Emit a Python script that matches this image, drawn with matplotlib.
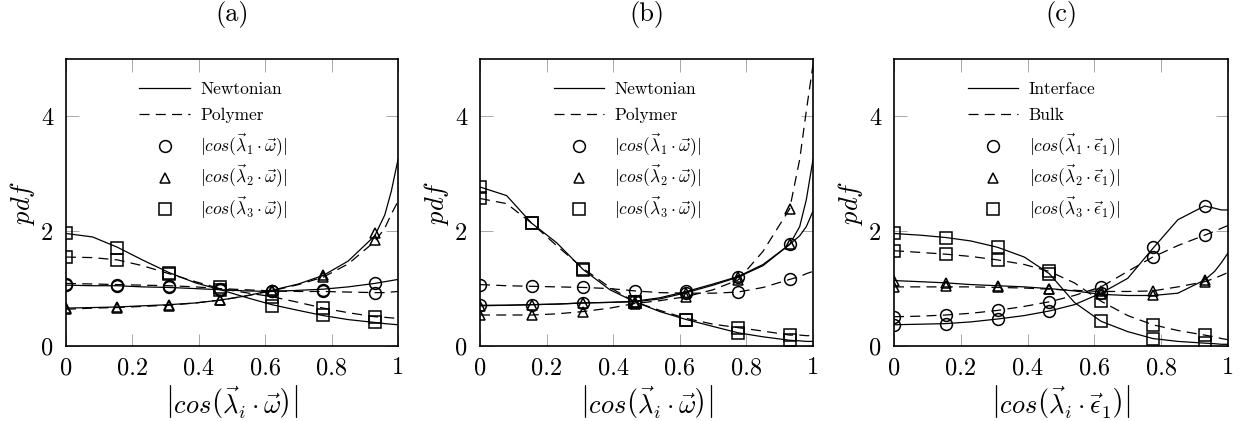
import matplotlib
matplotlib.use("Agg")
import matplotlib.pyplot as plt
from matplotlib.lines import Line2D

plt.rcParams['font.family'] = ['cmr10', 'DejaVu Serif']
plt.rcParams['mathtext.fontset'] = 'cm'
plt.rcParams['axes.formatter.use_mathtext'] = True

# ---------------- data ----------------
X_MARK = [0, 0.155, 0.31, 0.465, 0.62, 0.775, 0.93]
X_CURVE = [0, 0.08, 0.155, 0.23, 0.31, 0.39, 0.465, 0.54, 0.62, 0.70, 0.775, 0.85, 0.93, 0.96, 0.98, 1.0]

titles = ['(a)', '(b)', '(c)']
xlabels = [r'$\left|cos\left(\vec{\lambda}_i\cdot\vec{\omega}\right)\right|$',
           r'$\left|cos\left(\vec{\lambda}_i\cdot\vec{\omega}\right)\right|$',
           r'$\left|cos\left(\vec{\lambda}_i\cdot\vec{\epsilon}_1\right)\right|$']
style_labels = [['Newtonian', 'Polymer'], ['Newtonian', 'Polymer'], ['Interface', 'Bulk']]
vec_labels = [[r'$|cos(\vec{\lambda}_1\cdot\vec{\omega})|$', r'$|cos(\vec{\lambda}_2\cdot\vec{\omega})|$',
               r'$|cos(\vec{\lambda}_3\cdot\vec{\omega})|$'],
              [r'$|cos(\vec{\lambda}_1\cdot\vec{\omega})|$', r'$|cos(\vec{\lambda}_2\cdot\vec{\omega})|$',
               r'$|cos(\vec{\lambda}_3\cdot\vec{\omega})|$'],
              [r'$|cos(\vec{\lambda}_1\cdot\vec{\epsilon}_1)|$', r'$|cos(\vec{\lambda}_2\cdot\vec{\epsilon}_1)|$',
               r'$|cos(\vec{\lambda}_3\cdot\vec{\epsilon}_1)|$']]

# Panel (a): curves (solid = Newtonian, dashed = Polymer)
a_l1_solid = [1.06, 1.05, 1.05, 1.03, 1.02, 1.00, 0.98, 0.96, 0.95, 0.97, 0.99, 1.03, 1.09, 1.12, 1.14, 1.16]
a_l1_dash = [1.09, 1.08, 1.07, 1.06, 1.05, 1.03, 1.00, 0.98, 0.96, 0.95, 0.95, 0.94, 0.93, 0.93, 0.94, 0.95]
a_l2_solid = [0.66, 0.67, 0.68, 0.70, 0.72, 0.75, 0.80, 0.87, 0.97, 1.08, 1.23, 1.48, 1.92, 2.28, 2.70, 3.25]
a_l2_dash = [0.64, 0.66, 0.67, 0.69, 0.71, 0.75, 0.80, 0.87, 0.96, 1.07, 1.20, 1.43, 1.82, 2.05, 2.30, 2.52]
a_l3_solid = [1.96, 1.90, 1.72, 1.50, 1.28, 1.10, 0.98, 0.85, 0.72, 0.62, 0.53, 0.46, 0.41, 0.39, 0.38, 0.37]
a_l3_dash = [1.55, 1.54, 1.50, 1.40, 1.26, 1.12, 1.00, 0.93, 0.86, 0.76, 0.66, 0.58, 0.51, 0.50, 0.49, 0.48]
# Panel (a): markers
a_m1_solid = [1.06, 1.05, 1.02, 0.98, 0.95, 0.98, 1.09]
a_m1_dash = [1.08, 1.06, 1.05, 1.00, 0.96, 0.95, 0.92]
a_m2_solid = [0.66, 0.68, 0.72, 0.80, 0.97, 1.23, 1.97]
a_m2_dash = [0.64, 0.67, 0.70, 0.80, 0.96, 1.20, 1.84]
a_m3_solid = [1.96, 1.70, 1.28, 0.98, 0.70, 0.54, 0.42]
a_m3_dash = [1.55, 1.50, 1.25, 1.02, 0.86, 0.66, 0.50]

# Panel (b)
b_l1_solid = [0.71, 0.71, 0.72, 0.73, 0.75, 0.76, 0.78, 0.84, 0.95, 1.08, 1.21, 1.42, 1.77, 1.92, 2.08, 2.35]
b_l1_dash = [1.07, 1.05, 1.04, 1.03, 1.02, 1.00, 0.96, 0.93, 0.92, 0.92, 0.94, 1.02, 1.16, 1.21, 1.26, 1.30]
b_l2_solid = [0.70, 0.71, 0.72, 0.73, 0.75, 0.76, 0.77, 0.82, 0.93, 1.06, 1.20, 1.40, 1.77, 2.08, 2.55, 3.25]
b_l2_dash = [0.54, 0.54, 0.54, 0.56, 0.60, 0.66, 0.74, 0.79, 0.86, 0.98, 1.15, 1.65, 2.39, 3.25, 4.10, 4.90]
b_l3_solid = [2.77, 2.62, 2.14, 1.80, 1.33, 0.98, 0.77, 0.60, 0.46, 0.34, 0.23, 0.16, 0.10, 0.09, 0.08, 0.08]
b_l3_dash = [2.57, 2.48, 2.14, 1.75, 1.35, 1.02, 0.77, 0.62, 0.48, 0.38, 0.32, 0.26, 0.19, 0.19, 0.18, 0.18]
b_m1_solid = [0.71, 0.72, 0.75, 0.78, 0.95, 1.21, 1.77]
b_m1_dash = [1.07, 1.04, 1.02, 0.96, 0.92, 0.94, 1.16]
b_m2_solid = [0.70, 0.72, 0.75, 0.77, 0.93, 1.20, 1.77]
b_m2_dash = [0.54, 0.54, 0.60, 0.74, 0.86, 1.15, 2.39]
b_m3_solid = [2.77, 2.14, 1.33, 0.77, 0.46, 0.23, 0.10]
b_m3_dash = [2.57, 2.14, 1.35, 0.77, 0.46, 0.32, 0.19]

# Panel (c) (solid = Interface, dashed = Bulk)
c_l1_solid = [0.37, 0.38, 0.39, 0.42, 0.47, 0.53, 0.61, 0.72, 0.92, 1.18, 1.70, 2.20, 2.44, 2.40, 2.37, 2.37]
c_l1_dash = [0.51, 0.52, 0.54, 0.57, 0.62, 0.69, 0.77, 0.88, 1.03, 1.30, 1.55, 1.75, 1.93, 2.00, 2.05, 2.10]
c_l2_solid = [1.14, 1.12, 1.10, 1.07, 1.05, 1.03, 1.00, 0.96, 0.90, 0.88, 0.88, 0.92, 1.15, 1.30, 1.45, 1.62]
c_l2_dash = [1.03, 1.03, 1.03, 1.03, 1.02, 1.01, 0.99, 0.97, 0.95, 0.95, 0.96, 1.03, 1.12, 1.18, 1.23, 1.28]
c_l3_solid = [1.96, 1.93, 1.89, 1.83, 1.72, 1.55, 1.26, 0.76, 0.43, 0.25, 0.13, 0.08, 0.05, 0.04, 0.03, 0.03]
c_l3_dash = [1.66, 1.63, 1.60, 1.56, 1.50, 1.42, 1.30, 1.10, 0.78, 0.53, 0.37, 0.27, 0.19, 0.16, 0.13, 0.11]
c_m1_solid = [0.37, 0.39, 0.47, 0.61, 0.92, 1.72, 2.44]
c_m1_dash = [0.51, 0.54, 0.63, 0.77, 1.03, 1.55, 1.93]
c_m2_solid = [1.14, 1.10, 1.05, 1.00, 0.90, 0.89, 1.15]
c_m2_dash = [1.03, 1.04, 1.02, 0.99, 0.95, 0.96, 1.12]
c_m3_solid = [1.96, 1.89, 1.72, 1.26, 0.43, 0.13, 0.05]
c_m3_dash = [1.66, 1.60, 1.50, 1.30, 0.78, 0.37, 0.19]

panels = [
    ([a_l1_solid, a_l2_solid, a_l3_solid], [a_l1_dash, a_l2_dash, a_l3_dash],
     [a_m1_solid, a_m2_solid, a_m3_solid], [a_m1_dash, a_m2_dash, a_m3_dash]),
    ([b_l1_solid, b_l2_solid, b_l3_solid], [b_l1_dash, b_l2_dash, b_l3_dash],
     [b_m1_solid, b_m2_solid, b_m3_solid], [b_m1_dash, b_m2_dash, b_m3_dash]),
    ([c_l1_solid, c_l2_solid, c_l3_solid], [c_l1_dash, c_l2_dash, c_l3_dash],
     [c_m1_solid, c_m2_solid, c_m3_solid], [c_m1_dash, c_m2_dash, c_m3_dash]),
]

markers = ['o', '^', 's']
msizes = [8.5, 7.5, 9.0]
DASH = (0, (8, 5))

W, H = 1242, 421
fig = plt.figure(figsize=(W / 100, H / 100), dpi=100)
lefts = [66, 480, 894]
widths = [332, 333, 334]
top_px, bot_px = 59, 346

for k in range(3):
    ax = fig.add_axes([lefts[k] / W, (H - bot_px) / H, widths[k] / W, (bot_px - top_px) / H])
    solid, dashed, msolid, mdash = panels[k]
    for i in range(3):
        ax.plot(X_CURVE, solid[i], color='black', lw=0.9, ls='-', zorder=2)
        ax.plot(X_CURVE, dashed[i], color='black', lw=0.9, ls=DASH, zorder=2)
        ax.plot(X_MARK, msolid[i], ls='none', marker=markers[i], ms=msizes[i], mfc='none',
                mec='black', mew=1.1, zorder=3)
        ax.plot(X_MARK, mdash[i], ls='none', marker=markers[i], ms=msizes[i], mfc='none',
                mec='black', mew=1.1, zorder=3)
    ax.set_xlim(0, 1)
    ax.set_ylim(0, 5)
    ax.set_xticks([0, 0.2, 0.4, 0.6, 0.8, 1])
    ax.set_xticklabels(['0', '0.2', '0.4', '0.6', '0.8', '1'])
    ax.set_yticks([0, 2, 4])
    ax.set_yticklabels(['0', '2', '4'])
    ax.tick_params(direction='in', length=9, width=0.6, color='#999999', top=True, right=True,
                   labelsize=17.5)
    ax.tick_params(axis='x', pad=8)
    ax.tick_params(axis='y', pad=9)
    for sp in ax.spines.values():
        sp.set_linewidth(1.2)
    ax.set_xlabel(xlabels[k], fontsize=19, labelpad=3)
    ax.set_ylabel(r'$pdf$', fontsize=19, labelpad=3)
    ax.set_title(titles[k], fontsize=19, pad=27)

    style_handles = [Line2D([], [], color='black', lw=0.9, ls='-'),
                     Line2D([], [], color='black', lw=0.9, ls=DASH)]
    marker_handles = [Line2D([], [], ls='none', marker=markers[i], ms=msizes[i], mfc='none',
                             mec='black', mew=1.1) for i in range(3)]
    leg1 = ax.legend(style_handles, style_labels[k], loc='upper left', bbox_to_anchor=(0.2, 0.945),
                     frameon=False, fontsize=12.5, handlelength=2.9, handletextpad=0.6,
                     labelspacing=0.6, borderaxespad=0.0)
    ax.add_artist(leg1)
    ax.legend(marker_handles, vec_labels[k], loc='upper left', bbox_to_anchor=(0.2, 0.772),
              frameon=False, fontsize=12.5, handlelength=2.9, handletextpad=0.6,
              labelspacing=0.25, borderaxespad=0.0)

fig.savefig('out.png', dpi=100)
